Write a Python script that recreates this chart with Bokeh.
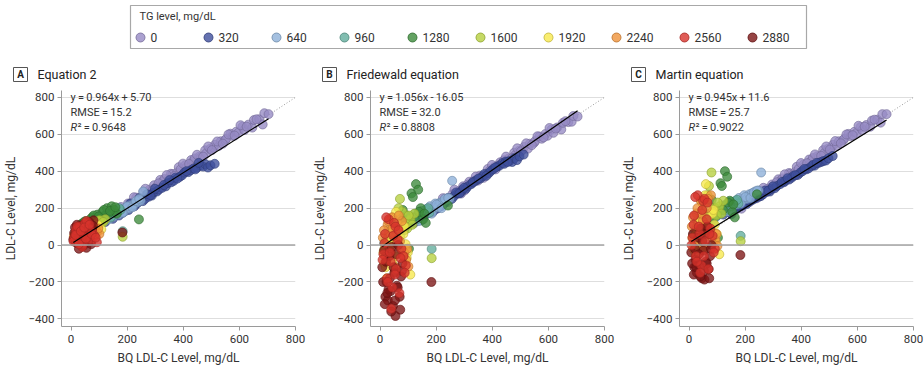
from bokeh.plotting import figure
from bokeh.layouts import column, row
from bokeh.models import Label, Range1d, FixedTicker, Span, ColumnDataSource
from bokeh.embed import file_html
from bokeh.resources import INLINE
from bokeh.core.properties import value

FONT = "Roboto"
TEXT = "#333333"

# ---- data -------------------------------------------------------------
tg_levels = [0, 320, 640, 960, 1280, 1600, 1920, 2240, 2560, 2880]
tg_colors = ["#968ac4", "#3f4f9c", "#8db0d8", "#62ad9c", "#3c8b3b",
             "#b6d03e", "#f7e84c", "#ef9239", "#d7332c", "#7c1515"]

# beta-quantification LDL-C, per TG level
bq_ldl = {
    0: [152, 168, 187, 203, 214, 232, 241, 258, 273, 281, 296, 302, 318, 327, 333, 349, 356, 362, 378, 384,
        391, 407, 412, 428, 436, 441, 457, 463, 478, 482, 496, 508, 513, 527, 534, 549, 553, 568, 576, 589,
        597, 611, 618, 632, 646, 652, 671, 683, 689, 704,
        178, 224, 265, 289, 312, 341, 369, 399, 421, 449, 471, 489, 502, 521, 541, 561, 583, 604, 626, 661],
    320: [122, 138, 149, 163, 171, 184, 196, 205, 218, 226, 237, 249, 256, 264, 277, 288, 294, 306, 313, 325,
          338, 344, 357, 366, 372, 388, 396, 404, 418, 426, 437, 448, 462, 471, 479, 488, 497, 512,
          131, 157, 178, 191, 211, 231, 244, 271, 283, 299, 331, 351, 379, 411, 443, 455],
    640: [62, 78, 95, 104, 118, 126, 135, 144, 152, 160, 171, 178, 189, 197, 206, 215, 224, 236, 248, 257,
          70, 88, 112, 139, 165, 184, 201, 219, 231, 243],
    960: [22, 35, 48, 57, 66, 79, 88, 97, 109, 118, 131, 142, 153, 166, 176, 184,
          15, 29, 42, 61, 72, 84, 101, 125, 148, 171],
    1280: [24, 38, 52, 63, 75, 86, 94, 103, 112, 121, 128, 136, 145, 154, 163, 242,
           31, 46, 69, 81, 99, 117, 139, 158],
    1600: [16, 28, 37, 45, 54, 62, 71, 80, 88, 97, 108, 122, 184,
           20, 33, 50, 58, 66, 84, 102, 115],
    1920: [15, 24, 31, 39, 46, 53, 60, 67, 75, 83, 91, 99, 108,
           12, 20, 35, 43, 57, 71, 87, 95],
    2240: [10, 19, 27, 34, 42, 49, 56, 63, 71, 78, 86, 93, 101,
           14, 22, 30, 38, 45, 53, 60, 67, 82, 97],
    2560: [12, 18, 25, 31, 38, 44, 50, 57, 63, 69, 76, 84, 92, 40, 55,
           9, 16, 22, 28, 35, 47, 53, 66, 73, 88],
    2880: [8, 14, 19, 23, 28, 33, 37, 42, 46, 51, 55, 60, 65, 70, 75, 80, 30, 183,
           11, 17, 21, 26, 35, 40, 48, 53, 58, 63, 72, 78],
}

# LDL-C by Equation 2
ldl_eq2 = {
    0: [162, 186, 192, 225, 226, 257, 249, 288, 288, 301, 324, 312, 353, 345, 358, 361, 386, 384, 393, 422,
        411, 432, 422, 460, 454, 469, 479, 475, 513, 497, 521, 528, 543, 537, 562, 567, 575, 603, 591, 614,
        609, 641, 623, 652, 636, 677, 681, 653, 714, 709,
        206, 259, 305, 294, 334, 379, 374, 441, 439, 489, 479, 534, 514, 561, 549, 599, 593, 649, 641, 681],
    320: [125, 148, 142, 170, 160, 175, 200, 190, 215, 210, 228, 242, 238, 250, 262, 268, 285, 290, 300, 310,
          318, 335, 340, 348, 365, 370, 378, 392, 395, 405, 415, 418, 430, 425, 438, 420, 432, 440,
          150, 165, 190, 182, 225, 222, 255, 275, 270, 305, 325, 352, 360, 400, 410, 445],
    640: [85, 95, 110, 120, 128, 150, 140, 160, 155, 172, 168, 190, 180, 205, 198, 215, 220, 232, 240, 290,
          100, 115, 135, 148, 185, 175, 210, 205, 238, 250],
    960: [70, 85, 95, 100, 115, 120, 135, 125, 150, 140, 165, 150, 175, 180, 190, 75,
          60, 90, 80, 110, 100, 130, 145, 160, 185, 200],
    1280: [95, 115, 130, 110, 150, 135, 165, 145, 180, 160, 200, 175, 210, 190, 170, 139,
           105, 125, 140, 160, 155, 190, 185, 205],
    1600: [55, 80, 70, 95, 85, 110, 100, 125, 115, 130, 120, 140, 45,
           65, 75, 100, 90, 115, 105, 135, 125],
    1920: [40, 65, 55, 80, 70, 95, 85, 110, 100, 90, 115, 105, 85,
           50, 35, 70, 60, 100, 75, 95, 110],
    2240: [45, 30, 70, 55, 90, 65, 100, 75, 110, 85, 95, 70, 60,
           60, 35, 80, 45, 105, 55, 85, 120, 75, 90],
    2560: [40, 80, 20, 100, 60, 10, 120, 45, 90, 30, 70, 50, 15, -10, 130,
           20, 55, 100, 5, 75, 95, 35, 110, 60, 40],
    2880: [30, 95, 60, 10, -20, 85, 40, 110, 0, 70, -15, 50, 125, 20, 90, 134, 55, 68,
           65, 15, 110, 45, 75, -5, 100, 30, 115, 60, 5, 105],
}

# LDL-C by the Friedewald equation
ldl_friedewald = {
    0: [147, 180, 177, 218, 214, 252, 233, 276, 278, 291, 318, 297, 343, 335, 348, 349, 376, 372, 383, 412,
        403, 422, 410, 448, 444, 459, 467, 463, 500, 487, 511, 516, 531, 522, 549, 554, 563, 588, 576, 601,
        592, 626, 608, 637, 626, 662, 666, 668, 699, 696,
        198, 254, 300, 279, 327, 371, 364, 434, 431, 479, 471, 524, 507, 551, 541, 589, 583, 634, 631, 671],
    320: [120, 150, 135, 165, 172, 180, 205, 198, 210, 222, 240, 248, 250, 265, 280, 285, 300, 305, 318, 330,
          345, 352, 360, 372, 385, 390, 402, 412, 425, 430, 445, 452, 455, 450, 470, 460, 480, 490,
          140, 160, 190, 185, 225, 230, 255, 285, 280, 310, 340, 360, 375, 420, 440, 450],
    640: [70, 88, 105, 120, 130, 160, 135, 170, 150, 185, 175, 210, 190, 225, 205, 230, 235, 245, 250, 348,
          80, 100, 140, 130, 195, 170, 220, 200, 250, 255],
    960: [30, 60, 45, 85, 70, 110, 95, 130, 120, 150, 140, 170, 160, 190, 175, -21,
          10, 80, 20, 100, 50, 140, 110, 170, 185, 200],
    1280: [20, 60, 100, 45, 130, 80, 160, -20, 280, 150, 330, 300, 200, 140, 120, 214,
           40, 90, 110, 190, 120, 260, 180, 170],
    1600: [-20, 40, 10, 80, 60, 150, 250, 180, 120, 90, 140, 170, -71,
           0, 60, 120, 30, 200, 100, 160, 110],
    1920: [-100, -180, 20, 80, 150, -60, 120, 40, -20, 60, 5, -40, -160,
           -40, -120, 60, -90, 180, -10, 100, -70],
    2240: [40, -60, 110, -20, 150, 60, -120, 90, 20, 130, -40, -80, -116,
           80, -90, 130, -40, 90, -140, 10, 160, -60, -20],
    2560: [-50, 60, -180, 140, -90, -230, 120, -130, 30, -260, -20, -60, -110, -345, 100,
           -80, 10, 150, -200, -40, 50, -160, 80, -70, -150],
    2880: [-120, -30, -280, -200, -300, -60, -250, -10, -330, -150, -384, -220, 0, -280, -170, -100, -240, -200,
           -200, -320, -90, -260, -180, -360, -120, -300, -50, -230, -350, -140],
}

# LDL-C by the Martin equation
ldl_martin = {
    0: [167, 193, 197, 231, 232, 262, 253, 293, 293, 306, 328, 317, 356, 349, 361, 364, 390, 387, 396, 424,
        413, 435, 424, 463, 456, 471, 481, 477, 514, 498, 522, 528, 543, 537, 562, 567, 575, 602, 590, 613,
        607, 639, 623, 650, 641, 674, 679, 663, 709, 709,
        213, 264, 310, 299, 340, 383, 379, 444, 443, 491, 483, 534, 517, 563, 551, 599, 595, 646, 641, 679],
    320: [165, 180, 170, 195, 200, 210, 230, 222, 238, 245, 255, 262, 265, 275, 288, 290, 305, 308, 320, 330,
          340, 348, 355, 365, 375, 380, 392, 400, 410, 415, 428, 430, 445, 450, 455, 458, 470, 482,
          180, 195, 215, 215, 245, 250, 270, 295, 295, 318, 342, 362, 378, 412, 435, 445],
    640: [110, 130, 150, 165, 175, 205, 180, 215, 200, 232, 220, 255, 240, 270, 250, 275, 280, 290, 295, 393,
          120, 145, 175, 185, 235, 225, 260, 255, 285, 295],
    960: [80, 110, 100, 140, 125, 160, 150, 180, 170, 200, 190, 220, 210, 240, 225, 50,
          55, 130, 70, 155, 100, 180, 160, 215, 235, 245],
    1280: [60, 95, 130, 80, 170, 120, 200, 40, 335, 190, 400, 370, 240, 180, 150, 275,
           90, 140, 160, 245, 165, 320, 230, 220],
    1600: [30, 100, 70, 150, 120, 230, 320, 393, 200, 160, 210, 240, 21,
           50, 120, 190, 80, 270, 180, 230, 170],
    1920: [-20, -45, 80, 130, 230, 40, 330, 150, 90, 170, 110, 60, -50,
           40, -10, 120, 0, 270, 80, 190, 20],
    2240: [100, 20, 170, 60, 240, 130, -10, 200, 90, 270, 50, 30, -5,
           150, 0, 200, 40, 170, -20, 110, 250, 40, 60],
    2560: [40, 160, -60, 270, 60, -110, 240, 20, 140, -130, 90, 50, -20, -150, 250,
           0, 110, 260, -90, 100, 190, -60, 230, 60, -40],
    2880: [-40, 60, -120, -80, -150, 40, -110, 90, -180, -30, -187, -90, 100, -130, -60, 0, -100, -54,
           -100, -160, -20, -120, -50, -170, 20, -140, 60, -100, -180, -20],
}

panel_letters = ["A", "B", "C"]
panel_titles = ["Equation 2", "Friedewald equation", "Martin equation"]
panel_estimates = [ldl_eq2, ldl_friedewald, ldl_martin]
fit_slope = ["0.964", "1.056", "0.945"]
fit_intercept = ["5.70", "-16.05", "11.6"]
fit_rmse = ["15.2", "32.0", "25.7"]
fit_r2 = ["0.9648", "0.8808", "0.9022"]

x_ticks = [0, 200, 400, 600, 800]
y_ticks = [-400, -200, 0, 200, 400, 600, 800]

# ---- layout constants -------------------------------------------------------
HEAD_H = 88                    # legend strip + panel headings
PANEL_W = [309, 309, 306]
PANEL_H = 279
BORDER_L, FRAME_W = 61, 234
THIN = "\u2009"

all_bq = [v for lvl in tg_levels for v in bq_ldl[lvl]]
fit_lo, fit_hi = min(all_bq), max(all_bq)


def darken(hex_color, f=0.78):
    r, g, b = (int(hex_color[k:k + 2], 16) for k in (1, 3, 5))
    return "#%02x%02x%02x" % (int(r * f), int(g * f), int(b * f))


color_of = dict(zip(tg_levels, tg_colors))

# draw order: rising TG, with the two highest levels swapped so 2560 sits above 2880
layer_levels = [0, 320, 640, 960, 1280, 1600, 1920, 2240, 2880, 2560]
draw_order = [(lvl, k) for lvl in layer_levels for k in range(len(bq_ldl[lvl]))]


def make_panel(i):
    p = figure(width=PANEL_W[i], height=PANEL_H, output_backend="svg", toolbar_location=None,
               x_range=Range1d(-34, 800), y_range=Range1d(-441, 837),
               min_border_left=BORDER_L, min_border_right=PANEL_W[i] - BORDER_L - FRAME_W,
               min_border_top=2, min_border_bottom=38,
               background_fill_color="white", border_fill_color="white")
    p.outline_line_color = None
    p.xgrid.grid_line_color = None
    p.ygrid.grid_line_color = "#dedede"
    p.ygrid.grid_line_width = 1

    for ax in (p.xaxis[0], p.yaxis[0]):
        ax.axis_line_color = "#9a9a9a"
        ax.major_tick_line_color = "#9a9a9a"
        ax.major_tick_in = 0
        ax.major_tick_out = 4
        ax.minor_tick_line_color = None
        ax.major_label_text_font = FONT
        ax.major_label_text_font_size = "11.5px"
        ax.major_label_text_color = TEXT
        ax.axis_label_text_font = FONT
        ax.axis_label_text_font_size = "12px"
        ax.axis_label_text_font_style = "normal"
        ax.axis_label_text_color = TEXT
    p.xaxis.ticker = FixedTicker(ticks=x_ticks)
    p.yaxis.ticker = FixedTicker(ticks=y_ticks)
    p.xaxis.axis_label = "BQ LDL-C Level, mg/dL"
    p.yaxis.axis_label = "LDL-C Level, mg/dL"
    p.xaxis.major_label_standoff = 4
    p.yaxis.major_label_standoff = 3
    p.xaxis.axis_label_standoff = 5
    p.yaxis.axis_label_standoff = 8

    p.add_layout(Span(location=0, dimension="width", line_color="#a5a5a5", line_width=1.6))

    # identity line
    p.line([0, 800], [0, 800], line_color="#9a9a9a", line_width=1, line_dash="1 2")

    est = panel_estimates[i]
    src = ColumnDataSource(dict(
        x=[bq_ldl[lvl][k] for lvl, k in draw_order],
        y=[est[lvl][k] for lvl, k in draw_order],
        fill=[color_of[lvl] for lvl, k in draw_order],
        edge=[darken(color_of[lvl]) for lvl, k in draw_order],
    ))
    p.scatter("x", "y", source=src, size=9, fill_color="fill", fill_alpha=0.78,
              line_color="edge", line_alpha=0.8, line_width=0.8)

    slope = float(fit_slope[i])
    icpt = float(fit_intercept[i])
    p.line([fit_lo, fit_hi], [slope * fit_lo + icpt, slope * fit_hi + icpt],
           line_color="black", line_width=1.2)

    sign = "-" if icpt < 0 else "+"
    eq = f"y{THIN}={THIN}{fit_slope[i]}x{THIN}{sign}{THIN}{fit_intercept[i].lstrip('-')}"
    lab = dict(x_units="screen", y_units="screen", text_font=FONT,
               text_font_size="11px", text_color=TEXT, text_baseline="middle")
    top = 239 - 10
    p.add_layout(Label(x=9, y=top, text=eq, **lab))
    p.add_layout(Label(x=9, y=top - 15, text=f"RMSE{THIN}={THIN}{fit_rmse[i]}", **lab))
    p.add_layout(Label(x=9, y=top - 30, text="R", text_font_style="italic", **lab))
    p.add_layout(Label(x=16, y=top - 30, text=f"\u00b2{THIN}={THIN}{fit_r2[i]}", **lab))
    return p


# ---- legend strip and panel headings ---------------------------------------
head = figure(width=924, height=HEAD_H, output_backend="svg", toolbar_location=None,
              x_range=Range1d(0, 924), y_range=Range1d(HEAD_H, 0), min_border=0,
              background_fill_color="white", border_fill_color="white")
head.axis.visible = False
head.grid.grid_line_color = None
head.outline_line_color = None
head.quad(left=[130], right=[806], top=[5], bottom=[48], fill_color=None,
          line_color="#a8a8a8", line_width=1.2)
head.text([139], [16], text=["TG level, mg/dL"], text_font=value(FONT), text_font_size="11px",
          text_color=TEXT, text_baseline="middle")
leg_x0, leg_step = 140, 68
leg_x = [leg_x0 + k * leg_step for k in range(len(tg_levels))]
head.scatter(leg_x, [37] * len(tg_levels), size=9, fill_color=tg_colors,
             line_color=[darken(c) for c in tg_colors], line_alpha=0.8, fill_alpha=0.8)
head.text([x + 10 for x in leg_x], [37] * len(tg_levels), text=[str(t) for t in tg_levels],
          text_font=value(FONT), text_font_size="12px", text_color=TEXT, text_baseline="middle")

frame_left = [sum(PANEL_W[:k]) + BORDER_L for k in range(3)]
box_l = [f - 48 for f in frame_left]
head.quad(left=box_l, right=[b + 14 for b in box_l], top=[67] * 3, bottom=[81] * 3,
          fill_color="white", line_color="#555555", line_width=1)
head.text([b + 7 for b in box_l], [74] * 3, text=panel_letters, text_font=value(FONT),
          text_font_size="10px", text_font_style="bold", text_color="#222222",
          text_align="center", text_baseline="middle")
head.text([f - 24 for f in frame_left], [74] * 3, text=panel_titles, text_font=value(FONT),
          text_font_size="12.5px", text_color="#222222", text_baseline="middle")

layout = column(head, row(*[make_panel(i) for i in range(3)]))

open("out.html", "w").write(file_html(layout, INLINE))
